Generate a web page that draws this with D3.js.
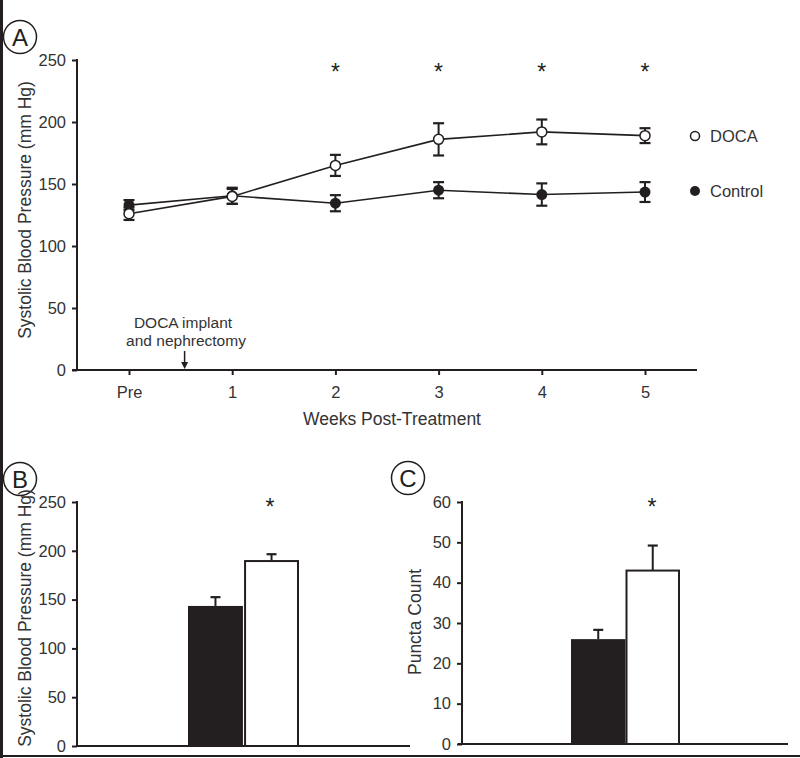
<!DOCTYPE html>
<html><head><meta charset="utf-8">
<script src="https://cdn.jsdelivr.net/npm/d3@7"></script>
<style>body{margin:0;background:#fff}svg{display:block;font-family:"Liberation Sans",Arial,sans-serif}</style>
</head><body>
<svg id="c" width="800" height="758"></svg>
<script>
// ---- Data ----
const weeks = ["Pre","1","2","3","4","5"];
const docaMean = [126,140,165,186,192,189];
const docaErr  = [5,6,8.5,13,10,6];
const ctrlMean = [133,140.5,134.5,145,141.5,143.5];
const ctrlErr  = [4,6.5,6.5,6.5,9,8];
const sigWeeks = ["2","3","4","5"];
const yTicksBP = [0,50,100,150,200,250];

const groupsB = ["Control","DOCA"];
const bpMean = [143.5,189.5];
const bpErr  = [9,7];

const groupsC = ["Control","DOCA"];
const punctaMean = [26,43];
const punctaErr  = [2.3,6.2];
const yTicksC = [0,10,20,30,40,50,60];

const ink = "#231f20";
const txt = "#333";
const svg = d3.select("#c");

// frame (left and bottom)
svg.append("rect").attr("x",0).attr("y",0).attr("width",3).attr("height",758).attr("fill",ink);
svg.append("rect").attr("x",0).attr("y",755).attr("width",800).attr("height",2).attr("fill",ink);

function panelLabel(cx,cy,t){
  svg.append("circle").attr("cx",cx).attr("cy",cy).attr("r",16.5).attr("fill","none").attr("stroke",ink).attr("stroke-width",1.5);
  svg.append("text").attr("x",cx).attr("y",cy+8.5).attr("text-anchor","middle").attr("font-size",24).attr("fill",ink).text(t);
}
function styleAxis(g){
  g.attr("font-size",16.5).attr("font-family","Liberation Sans, Arial, sans-serif");
  g.selectAll("line").attr("stroke",ink).attr("stroke-width",2);
  g.selectAll("text").attr("fill",txt).attr("font-size",16.5);
}

// ---- Panel A ----
const xA = d3.scalePoint().domain(weeks).range([129,645]);
const yA = d3.scaleLinear().domain([0,250]).range([370,60]);
panelLabel(20,37,"A");

const gyA = svg.append("g").attr("transform","translate(77,0)")
  .call(d3.axisLeft(yA).tickValues(yTicksBP).tickSize(5).tickPadding(6));
gyA.select(".domain").remove();
styleAxis(gyA);
svg.append("line").attr("x1",77).attr("x2",77).attr("y1",yA(250)-1).attr("y2",yA(0)).attr("stroke",ink).attr("stroke-width",2);

const gxA = svg.append("g").attr("transform","translate(0,370)")
  .call(d3.axisBottom(xA).tickSize(5).tickPadding(11));
gxA.select(".domain").remove();
styleAxis(gxA);
svg.append("line").attr("x1",72).attr("x2",697).attr("y1",370).attr("y2",370).attr("stroke",ink).attr("stroke-width",2);

svg.append("text").attr("x",392).attr("y",425).attr("text-anchor","middle").attr("font-size",17.5).attr("fill",txt).text("Weeks Post-Treatment");
svg.append("text").attr("transform","translate(31,210) rotate(-90)").attr("text-anchor","middle").attr("font-size",17.5).attr("fill",txt).text("Systolic Blood Pressure (mm Hg)");

// annotation
svg.append("text").attr("x",183).attr("y",327.5).attr("text-anchor","middle").attr("font-size",15.5).attr("fill",txt).text("DOCA implant");
svg.append("text").attr("x",186).attr("y",345.5).attr("text-anchor","middle").attr("font-size",15.5).attr("fill",txt).text("and nephrectomy");
const ax = (xA("Pre")+xA("1"))/2 + 4;
svg.append("line").attr("x1",ax).attr("x2",ax).attr("y1",351).attr("y2",364).attr("stroke",ink).attr("stroke-width",1.5);
svg.append("path").attr("d",`M${ax-3.5},${362}L${ax+3.5},${362}L${ax},${369}Z`).attr("fill",ink);

function series(means,errs){
  const pts = weeks.map((w,i)=>({w,m:means[i],e:errs[i]}));
  svg.append("path").datum(pts).attr("fill","none").attr("stroke",ink).attr("stroke-width",1.6)
    .attr("d",d3.line().x(d=>xA(d.w)).y(d=>yA(d.m)));
  const g = svg.append("g");
  pts.forEach(d=>{
    const x=xA(d.w);
    g.append("line").attr("x1",x).attr("x2",x).attr("y1",yA(d.m+d.e)).attr("y2",yA(d.m-d.e)).attr("stroke",ink).attr("stroke-width",2);
    [d.m+d.e,d.m-d.e].forEach(v=>g.append("line").attr("x1",x-5.5).attr("x2",x+5.5).attr("y1",yA(v)).attr("y2",yA(v)).attr("stroke",ink).attr("stroke-width",2.2));
  });
  return pts;
}
const cp = series(ctrlMean,ctrlErr);
const dp = series(docaMean,docaErr);
svg.selectAll(".cdot").data(cp).join("circle").attr("cx",d=>xA(d.w)).attr("cy",d=>yA(d.m)).attr("r",5.5).attr("fill",ink);
svg.selectAll(".ddot").data(dp).join("circle").attr("cx",d=>xA(d.w)).attr("cy",d=>yA(d.m)).attr("r",5).attr("fill","#fff").attr("stroke",ink).attr("stroke-width",1.5);

svg.selectAll(".starA").data(sigWeeks).join("text").attr("x",d=>xA(d)).attr("y",80).attr("text-anchor","middle").attr("font-size",23).attr("fill",ink).text("*");

// legend
svg.append("circle").attr("cx",695).attr("cy",136).attr("r",4.5).attr("fill","#fff").attr("stroke",ink).attr("stroke-width",1.5);
svg.append("text").attr("x",710).attr("y",142).attr("font-size",16.5).attr("fill",txt).text("DOCA");
svg.append("circle").attr("cx",695).attr("cy",191).attr("r",5).attr("fill",ink);
svg.append("text").attr("x",710).attr("y",197).attr("font-size",16.5).attr("fill",txt).text("Control");

// ---- Panel B ----
panelLabel(20,479,"B");
const yB = d3.scaleLinear().domain([0,250]).range([746,502]);
const xB = d3.scaleBand().domain(groupsB).range([188,299]).paddingInner(0.02);
const gyB = svg.append("g").attr("transform","translate(77,0)")
  .call(d3.axisLeft(yB).tickValues(yTicksBP).tickSize(5).tickPadding(6));
gyB.select(".domain").remove();
styleAxis(gyB);
svg.append("line").attr("x1",77).attr("x2",77).attr("y1",yB(250)-1).attr("y2",yB(0)).attr("stroke",ink).attr("stroke-width",2);
svg.append("text").attr("transform","translate(31,618) rotate(-90)").attr("text-anchor","middle").attr("font-size",17.5).attr("fill",txt).text("Systolic Blood Pressure (mm Hg)");

groupsB.forEach((g,i)=>{
  const x = xB(g), w = xB.bandwidth(), cx = x + w/2;
  svg.append("line").attr("x1",cx).attr("x2",cx).attr("y1",yB(bpMean[i])).attr("y2",yB(bpMean[i]+bpErr[i])).attr("stroke",ink).attr("stroke-width",2);
  svg.append("line").attr("x1",cx-5).attr("x2",cx+5).attr("y1",yB(bpMean[i]+bpErr[i])).attr("y2",yB(bpMean[i]+bpErr[i])).attr("stroke",ink).attr("stroke-width",2.2);
  svg.append("rect").attr("x",i===0?x:x+1).attr("y",yB(bpMean[i])).attr("width",i===0?w:w-2).attr("height",yB(0)-yB(bpMean[i]))
    .attr("fill",i===0?ink:"#fff").attr("stroke",ink).attr("stroke-width",i===0?0:2);
});
svg.append("line").attr("x1",77).attr("x2",410).attr("y1",yB(0)).attr("y2",yB(0)).attr("stroke",ink).attr("stroke-width",2);
svg.append("text").attr("x",270).attr("y",515).attr("text-anchor","middle").attr("font-size",23).attr("fill",ink).text("*");

// ---- Panel C ----
panelLabel(408,478,"C");
const yC = d3.scaleLinear().domain([0,60]).range([744,502]);
const xC = d3.scaleBand().domain(groupsC).range([571,680]).paddingInner(0);
const gyC = svg.append("g").attr("transform","translate(462,0)")
  .call(d3.axisLeft(yC).tickValues(yTicksC).tickSize(5).tickPadding(6));
gyC.select(".domain").remove();
styleAxis(gyC);
svg.append("line").attr("x1",462).attr("x2",462).attr("y1",yC(60)-1).attr("y2",yC(0)).attr("stroke",ink).attr("stroke-width",2);
svg.append("text").attr("transform","translate(421,622) rotate(-90)").attr("text-anchor","middle").attr("font-size",17.5).attr("fill",txt).text("Puncta Count");

groupsC.forEach((g,i)=>{
  const x = xC(g), w = xC.bandwidth(), cx = x + w/2;
  svg.append("line").attr("x1",cx).attr("x2",cx).attr("y1",yC(punctaMean[i])).attr("y2",yC(punctaMean[i]+punctaErr[i])).attr("stroke",ink).attr("stroke-width",2);
  svg.append("line").attr("x1",cx-5).attr("x2",cx+5).attr("y1",yC(punctaMean[i]+punctaErr[i])).attr("y2",yC(punctaMean[i]+punctaErr[i])).attr("stroke",ink).attr("stroke-width",2.2);
  svg.append("rect").attr("x",i===0?x:x+1).attr("y",yC(punctaMean[i])).attr("width",i===0?w:w-2).attr("height",yC(0)-yC(punctaMean[i]))
    .attr("fill",i===0?ink:"#fff").attr("stroke",ink).attr("stroke-width",i===0?0:2);
});
svg.append("line").attr("x1",458).attr("x2",788).attr("y1",yC(0)).attr("y2",yC(0)).attr("stroke",ink).attr("stroke-width",2);
svg.append("text").attr("x",652).attr("y",515).attr("text-anchor","middle").attr("font-size",23).attr("fill",ink).text("*");
</script>
</body></html>
